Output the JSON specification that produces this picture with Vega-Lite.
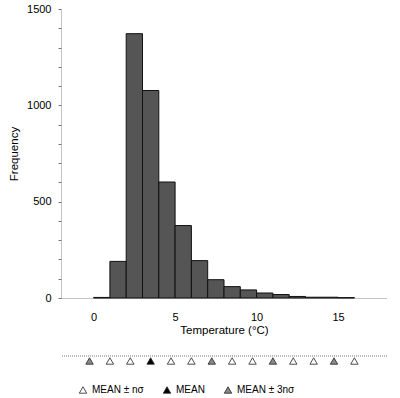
{
  "$schema": "https://vega.github.io/schema/vega-lite/v6.json",
  "padding": {"left": 8, "top": 3, "right": 12, "bottom": 0},
  "background": "white",
  "config": {
    "font": "Liberation Sans",
    "view": {"stroke": null},
    "axis": {"grid": false, "labelColor": "#000", "titleColor": "#000", "titleFontWeight": "normal", "labelFontSize": 11, "titleFontSize": 11.5}
  },
  "bounds": "flush",
  "spacing": 52,
  "vconcat": [
    {
      "width": 326,
      "height": 289,
      "data": {"values": [
        {"bin_start": 0, "bin_end": 1, "count": 3},
        {"bin_start": 1, "bin_end": 2, "count": 190},
        {"bin_start": 2, "bin_end": 3, "count": 1372},
        {"bin_start": 3, "bin_end": 4, "count": 1077},
        {"bin_start": 4, "bin_end": 5, "count": 602},
        {"bin_start": 5, "bin_end": 6, "count": 376},
        {"bin_start": 6, "bin_end": 7, "count": 194},
        {"bin_start": 7, "bin_end": 8, "count": 95},
        {"bin_start": 8, "bin_end": 9, "count": 59},
        {"bin_start": 9, "bin_end": 10, "count": 42},
        {"bin_start": 10, "bin_end": 11, "count": 26},
        {"bin_start": 11, "bin_end": 12, "count": 18},
        {"bin_start": 12, "bin_end": 13, "count": 8},
        {"bin_start": 13, "bin_end": 14, "count": 4},
        {"bin_start": 14, "bin_end": 15, "count": 4},
        {"bin_start": 15, "bin_end": 16, "count": 2}
      ]},
      "mark": {"type": "bar", "fill": "#555555", "stroke": "#111", "strokeWidth": 1},
      "encoding": {
        "x": {
          "field": "bin_start", "type": "quantitative",
          "scale": {"domain": [-2, 18], "nice": false, "zero": false},
          "axis": {"values": [0, 5, 10, 15], "title": "Temperature (°C)", "ticks": false, "tickSize": 0, "labelPadding": 13, "titlePadding": 2, "domainColor": "#888", "domainDash": [1, 1], "labelFlush": false}
        },
        "x2": {"field": "bin_end"},
        "y": {
          "field": "count", "type": "quantitative",
          "scale": {"domain": [0, 1500], "nice": false},
          "axis": {
            "values": [0, 100, 200, 300, 400, 500, 600, 700, 800, 900, 1000, 1100, 1200, 1300, 1400, 1500],
            "labelExpr": "datum.value % 500 === 0 ? datum.value : ''",
            "title": "Frequency", "tickSize": 3, "tickColor": "#777", "labelPadding": 7, "titlePadding": 7,
            "domainColor": "#888", "domainDash": [1, 1], "labelFlush": false
          }
        },
        "y2": {"datum": 0}
      }
    },
    {
      "width": 326,
      "height": 48,
      "layer": [
        {
          "data": {"values": [{"level": 42}]},
          "mark": {"type": "rule", "strokeDash": [1, 1], "color": "#777", "strokeWidth": 1},
          "encoding": {
            "y": {"field": "level", "type": "quantitative", "scale": {"domain": [0, 48], "nice": false}, "axis": null}
          }
        },
        {
          "data": {"values": [
            {"temp": -0.25, "marker": "MEAN ± 3nσ"},
            {"temp": 1.0, "marker": "MEAN ± nσ"},
            {"temp": 2.25, "marker": "MEAN ± nσ"},
            {"temp": 3.5, "marker": "MEAN"},
            {"temp": 4.75, "marker": "MEAN ± nσ"},
            {"temp": 6.0, "marker": "MEAN ± nσ"},
            {"temp": 7.25, "marker": "MEAN ± 3nσ"},
            {"temp": 8.5, "marker": "MEAN ± nσ"},
            {"temp": 9.75, "marker": "MEAN ± nσ"},
            {"temp": 11.0, "marker": "MEAN ± 3nσ"},
            {"temp": 12.25, "marker": "MEAN ± nσ"},
            {"temp": 13.5, "marker": "MEAN ± nσ"},
            {"temp": 14.75, "marker": "MEAN ± 3nσ"},
            {"temp": 16.0, "marker": "MEAN ± nσ"}
          ]},
          "mark": {"type": "point", "shape": "triangle-up", "filled": true, "stroke": "#222", "strokeWidth": 0.8, "size": 55, "opacity": 1},
          "encoding": {
            "x": {"field": "temp", "type": "quantitative", "scale": {"domain": [-2, 18], "nice": false, "zero": false}, "axis": null},
            "y": {"datum": 37, "type": "quantitative"},
            "fill": {
              "field": "marker", "type": "nominal",
              "scale": {"domain": ["MEAN ± nσ", "MEAN", "MEAN ± 3nσ"], "range": ["#ffffff", "#000000", "#8a8a8a"]},
              "legend": {
                "title": null, "orient": "none", "direction": "horizontal", "legendX": 17, "legendY": 376,
                "symbolType": "triangle-up", "symbolSize": 55, "symbolStrokeColor": "#222", "symbolStrokeWidth": 0.8,
                "labelFontSize": 10, "labelOffset": 4, "columnPadding": 17, "labelColor": "#000",
                "encode": {"labels": {"update": {"fill": {"signal": "datum.label === 'MEAN ± 3nσ' ? '#999' : '#000'"}}}}
              }
            }
          }
        }
      ]
    }
  ]
}
